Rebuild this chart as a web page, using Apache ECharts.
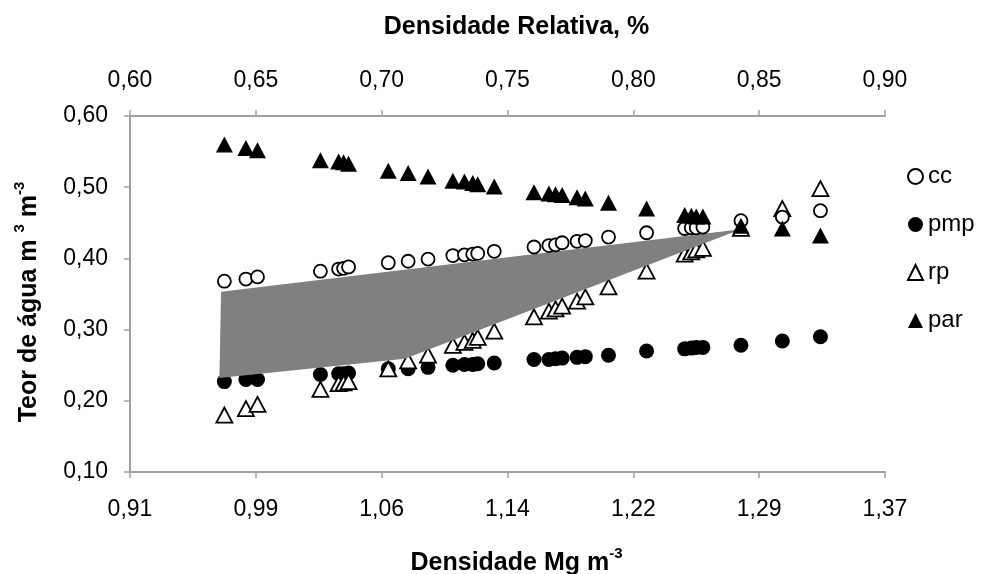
<!DOCTYPE html>
<html>
<head>
<meta charset="utf-8">
<script src="https://cdn.jsdelivr.net/npm/echarts@6/dist/echarts.min.js"></script>
<style>
html, body { margin: 0; padding: 0; background: #fff; }
#main { width: 983px; height: 574px; }
</style>
</head>
<body>
<div id="main"></div>
<script>
// densidade (Mg m-3) de cada amostra
var densidade = [0.969, 0.982, 0.989, 1.027, 1.038, 1.041, 1.044, 1.068, 1.080, 1.092,
    1.107, 1.114, 1.119, 1.122, 1.132, 1.156, 1.165, 1.169, 1.173, 1.182,
    1.187, 1.201, 1.224, 1.247, 1.251, 1.254, 1.258, 1.281, 1.306, 1.329];
var ccData = [0.368, 0.371, 0.374, 0.382, 0.385, 0.386, 0.388, 0.394, 0.396, 0.399,
    0.404, 0.405, 0.406, 0.407, 0.410, 0.416, 0.418, 0.419, 0.422, 0.424,
    0.425, 0.430, 0.436, 0.442, 0.443, 0.443, 0.444, 0.453, 0.458, 0.467];
var pmpData = [0.227, 0.230, 0.230, 0.237, 0.238, 0.238, 0.239, 0.245, 0.245, 0.247,
    0.250, 0.251, 0.251, 0.252, 0.253, 0.258, 0.258, 0.259, 0.260, 0.261,
    0.262, 0.264, 0.270, 0.273, 0.274, 0.275, 0.275, 0.278, 0.284, 0.290];
var rpData = [0.180, 0.189, 0.195, 0.216, 0.224, 0.225, 0.227, 0.245, 0.256, 0.264,
    0.278, 0.282, 0.285, 0.289, 0.298, 0.318, 0.326, 0.329, 0.333, 0.340,
    0.346, 0.360, 0.382, 0.406, 0.409, 0.412, 0.414, 0.442, 0.470, 0.498];
var parData = [0.560, 0.555, 0.552, 0.538, 0.536, 0.535, 0.533, 0.523, 0.520, 0.515,
    0.509, 0.508, 0.506, 0.504, 0.501, 0.493, 0.491, 0.490, 0.489, 0.486,
    0.484, 0.478, 0.470, 0.461, 0.460, 0.459, 0.459, 0.446, 0.442, 0.432];
// area cinza (vertices)
var ihoX = [0.967, 1.281, 1.078, 0.966];
var ihoY = [0.353, 0.441, 0.259, 0.232];

var fonte = '"Liberation Sans", Arial, sans-serif';

function pares(ys) {
    return densidade.map(function (d, i) { return [d, ys[i]]; });
}
function virgula(v) {
    return v.toFixed(2).replace('.', ',');
}

var eixoLinha = { lineStyle: { color: '#a0a0a0', width: 2 } };
var eixoTick = { show: true, inside: false, length: 6, lineStyle: { color: '#a0a0a0', width: 1.5 } };
var titulo = { fontSize: 25, fontWeight: 'bold', color: '#000', fontFamily: fonte, verticalAlign: 'bottom', padding: [5, 0, 0, 0] };
var sobrescrito = { fontSize: 15, fontWeight: 'bold', color: '#000', fontFamily: fonte, verticalAlign: 'top' };

var option = {
    backgroundColor: '#fff',
    animation: false,
    textStyle: { fontFamily: fonte },
    grid: { left: 130, right: 98, top: 116, bottom: 102, outerBoundsMode: 'none', containLabel: false },
    legend: {
        orient: 'vertical',
        left: 902,
        top: 158,
        itemWidth: 15,
        itemHeight: 15,
        itemGap: 21,
        data: ['cc', 'pmp', 'rp', 'par'],
        textStyle: { fontSize: 24, color: '#000', fontFamily: fonte, lineHeight: 27 }
    },
    xAxis: [{
        type: 'value',
        position: 'bottom',
        min: 0.912,
        max: 1.368,
        interval: 0.076,
        name: '{t|Densidade Mg m}{s|-3}',
        nameLocation: 'middle',
        nameGap: 74,
        nameTextStyle: {
            padding: [0, 0, 0, 18],
            rich: { t: titulo, s: sobrescrito }
        },
        axisLine: eixoLinha,
        axisTick: eixoTick,
        splitLine: { show: false },
        axisLabel: { fontSize: 23, color: '#000', margin: 26, formatter: virgula }
    }, {
        type: 'value',
        position: 'top',
        min: 0.60,
        max: 0.90,
        interval: 0.05,
        name: 'Densidade Relativa, %',
        nameLocation: 'middle',
        nameGap: 76,
        nameTextStyle: { fontSize: 25, fontWeight: 'bold', color: '#000', padding: [0, 0, 0, 18] },
        axisLine: eixoLinha,
        axisTick: eixoTick,
        splitLine: { show: false },
        axisLabel: { fontSize: 23, color: '#000', margin: 24, formatter: virgula }
    }],
    yAxis: {
        type: 'value',
        min: 0.1,
        max: 0.6,
        interval: 0.1,
        name: '{t|Teor de água m }{s|3}{t| m}{s|-3}',
        nameLocation: 'middle',
        nameGap: 88,
        nameRotate: 90,
        nameTextStyle: {
            padding: [0, 16, 0, 0],
            rich: { t: titulo, s: sobrescrito }
        },
        axisLine: { show: true, lineStyle: { color: '#a0a0a0', width: 2 } },
        axisTick: eixoTick,
        splitLine: { show: false },
        axisLabel: { fontSize: 23, color: '#000', margin: 22, formatter: virgula }
    },
    series: [{
        name: 'cc',
        type: 'scatter',
        symbol: 'circle',
        symbolSize: 13,
        z: 4,
        itemStyle: { color: '#fff', borderColor: '#000', borderWidth: 1.8, opacity: 1 },
        data: pares(ccData)
    }, {
        name: 'pmp',
        type: 'scatter',
        symbol: 'circle',
        symbolSize: 15,
        z: 2,
        itemStyle: { color: '#000', opacity: 1 },
        data: pares(pmpData)
    }, {
        name: 'rp',
        type: 'scatter',
        symbol: 'triangle',
        symbolSize: [16, 15],
        z: 2,
        itemStyle: { color: '#fff', borderColor: '#000', borderWidth: 1.8, opacity: 1 },
        data: pares(rpData)
    }, {
        name: 'par',
        type: 'scatter',
        symbol: 'triangle',
        symbolSize: [17, 16],
        z: 4,
        itemStyle: { color: '#000', opacity: 1 },
        data: pares(parData)
    }, {
        name: 'iho',
        type: 'custom',
        z: 3,
        silent: true,
        data: ihoX.map(function (x, i) { return [x, ihoY[i]]; }),
        renderItem: function (params, api) {
            if (params.dataIndex !== 0) { return null; }
            var pts = ihoX.map(function (x, i) { return api.coord([x, ihoY[i]]); });
            return { type: 'polygon', shape: { points: pts }, style: { fill: '#808080' } };
        }
    }]
};

var chart = echarts.init(document.getElementById('main'));
chart.setOption(option);
</script>
</body>
</html>
